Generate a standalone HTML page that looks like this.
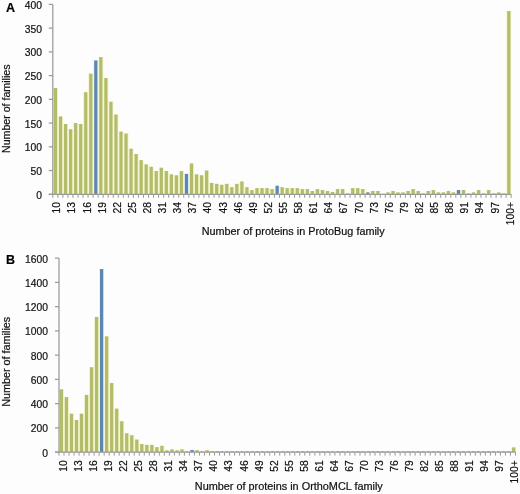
<!DOCTYPE html>
<html><head><meta charset="utf-8"><style>
html,body{margin:0;padding:0;background:#fff;}
body{width:520px;height:494px;overflow:hidden;}
svg{display:block;will-change:transform;filter:blur(0.3px);}
text{font-family:"Liberation Sans",sans-serif;fill:#111;stroke:#111;stroke-width:0.2px;}
.n{font-size:10.3px;}
.t{font-size:10px;}
.p{font-size:12.5px;font-weight:bold;fill:#000;}
</style></head><body>
<svg width="520" height="494" viewBox="0 0 520 494">
<rect width="520" height="494" fill="#fdfdfd"/>
<rect x="53.00" y="87.96" width="5.037" height="106.34" fill="#f3f4cc"/>
<rect x="58.04" y="116.44" width="5.037" height="77.86" fill="#f3f4cc"/>
<rect x="63.07" y="124.04" width="5.037" height="70.26" fill="#f3f4cc"/>
<rect x="68.11" y="129.26" width="5.037" height="65.04" fill="#f3f4cc"/>
<rect x="73.15" y="123.09" width="5.037" height="71.21" fill="#f3f4cc"/>
<rect x="78.19" y="124.04" width="5.037" height="70.26" fill="#f3f4cc"/>
<rect x="83.22" y="92.23" width="5.037" height="102.07" fill="#f3f4cc"/>
<rect x="88.26" y="73.71" width="5.037" height="120.59" fill="#f3f4cc"/>
<rect x="93.30" y="60.42" width="5.037" height="133.88" fill="#e9f1f6"/>
<rect x="98.33" y="57.10" width="5.037" height="137.20" fill="#f3f4cc"/>
<rect x="103.37" y="77.99" width="5.037" height="116.31" fill="#f3f4cc"/>
<rect x="108.41" y="101.72" width="5.037" height="92.58" fill="#f3f4cc"/>
<rect x="113.44" y="114.54" width="5.037" height="79.76" fill="#f3f4cc"/>
<rect x="118.48" y="131.63" width="5.037" height="62.67" fill="#f3f4cc"/>
<rect x="123.52" y="133.53" width="5.037" height="60.77" fill="#f3f4cc"/>
<rect x="128.56" y="148.72" width="5.037" height="45.58" fill="#f3f4cc"/>
<rect x="133.59" y="153.95" width="5.037" height="40.35" fill="#f3f4cc"/>
<rect x="138.63" y="160.12" width="5.037" height="34.18" fill="#f3f4cc"/>
<rect x="143.67" y="164.39" width="5.037" height="29.91" fill="#f3f4cc"/>
<rect x="148.70" y="166.76" width="5.037" height="27.54" fill="#f3f4cc"/>
<rect x="153.74" y="171.04" width="5.037" height="23.26" fill="#f3f4cc"/>
<rect x="158.78" y="167.71" width="5.037" height="26.59" fill="#f3f4cc"/>
<rect x="163.81" y="171.04" width="5.037" height="23.26" fill="#f3f4cc"/>
<rect x="168.85" y="174.36" width="5.037" height="19.94" fill="#f3f4cc"/>
<rect x="173.89" y="175.31" width="5.037" height="18.99" fill="#f3f4cc"/>
<rect x="178.93" y="171.04" width="5.037" height="23.26" fill="#f3f4cc"/>
<rect x="183.96" y="173.89" width="5.037" height="20.41" fill="#e9f1f6"/>
<rect x="189.00" y="163.44" width="5.037" height="30.86" fill="#f3f4cc"/>
<rect x="194.04" y="174.36" width="5.037" height="19.94" fill="#f3f4cc"/>
<rect x="199.07" y="175.31" width="5.037" height="18.99" fill="#f3f4cc"/>
<rect x="204.11" y="170.56" width="5.037" height="23.74" fill="#f3f4cc"/>
<rect x="209.15" y="182.91" width="5.037" height="11.39" fill="#f3f4cc"/>
<rect x="214.18" y="183.86" width="5.037" height="10.44" fill="#f3f4cc"/>
<rect x="219.22" y="184.81" width="5.037" height="9.50" fill="#f3f4cc"/>
<rect x="224.26" y="183.86" width="5.037" height="10.44" fill="#f3f4cc"/>
<rect x="229.29" y="187.18" width="5.037" height="7.12" fill="#f3f4cc"/>
<rect x="234.33" y="183.86" width="5.037" height="10.44" fill="#f3f4cc"/>
<rect x="239.37" y="181.48" width="5.037" height="12.82" fill="#f3f4cc"/>
<rect x="244.41" y="187.18" width="5.037" height="7.12" fill="#f3f4cc"/>
<rect x="249.44" y="190.03" width="5.037" height="4.27" fill="#f3f4cc"/>
<rect x="254.48" y="188.13" width="5.037" height="6.17" fill="#f3f4cc"/>
<rect x="259.52" y="188.13" width="5.037" height="6.17" fill="#f3f4cc"/>
<rect x="264.55" y="188.13" width="5.037" height="6.17" fill="#f3f4cc"/>
<rect x="269.59" y="189.08" width="5.037" height="5.22" fill="#f3f4cc"/>
<rect x="274.63" y="185.75" width="5.037" height="8.55" fill="#e9f1f6"/>
<rect x="279.66" y="187.18" width="5.037" height="7.12" fill="#f3f4cc"/>
<rect x="284.70" y="188.13" width="5.037" height="6.17" fill="#f3f4cc"/>
<rect x="289.74" y="188.13" width="5.037" height="6.17" fill="#f3f4cc"/>
<rect x="294.78" y="188.13" width="5.037" height="6.17" fill="#f3f4cc"/>
<rect x="299.81" y="189.08" width="5.037" height="5.22" fill="#f3f4cc"/>
<rect x="304.85" y="189.08" width="5.037" height="5.22" fill="#f3f4cc"/>
<rect x="309.89" y="190.98" width="5.037" height="3.32" fill="#f3f4cc"/>
<rect x="314.92" y="189.08" width="5.037" height="5.22" fill="#f3f4cc"/>
<rect x="319.96" y="190.03" width="5.037" height="4.27" fill="#f3f4cc"/>
<rect x="325.00" y="190.98" width="5.037" height="3.32" fill="#f3f4cc"/>
<rect x="330.03" y="191.93" width="5.037" height="2.37" fill="#f3f4cc"/>
<rect x="335.07" y="189.08" width="5.037" height="5.22" fill="#f3f4cc"/>
<rect x="340.11" y="189.08" width="5.037" height="5.22" fill="#f3f4cc"/>
<rect x="345.15" y="193.35" width="5.037" height="0.95" fill="#f3f4cc"/>
<rect x="350.18" y="188.13" width="5.037" height="6.17" fill="#f3f4cc"/>
<rect x="355.22" y="188.13" width="5.037" height="6.17" fill="#f3f4cc"/>
<rect x="360.26" y="189.08" width="5.037" height="5.22" fill="#f3f4cc"/>
<rect x="365.29" y="192.40" width="5.037" height="1.90" fill="#e9f1f6"/>
<rect x="370.33" y="190.98" width="5.037" height="3.32" fill="#f3f4cc"/>
<rect x="375.37" y="190.98" width="5.037" height="3.32" fill="#f3f4cc"/>
<rect x="380.40" y="193.83" width="5.037" height="0.47" fill="#f3f4cc"/>
<rect x="385.44" y="192.40" width="5.037" height="1.90" fill="#f3f4cc"/>
<rect x="390.48" y="190.98" width="5.037" height="3.32" fill="#f3f4cc"/>
<rect x="395.52" y="192.40" width="5.037" height="1.90" fill="#f3f4cc"/>
<rect x="400.55" y="192.40" width="5.037" height="1.90" fill="#f3f4cc"/>
<rect x="405.59" y="190.98" width="5.037" height="3.32" fill="#f3f4cc"/>
<rect x="410.63" y="189.08" width="5.037" height="5.22" fill="#f3f4cc"/>
<rect x="415.66" y="190.98" width="5.037" height="3.32" fill="#f3f4cc"/>
<rect x="420.70" y="193.35" width="5.037" height="0.95" fill="#f3f4cc"/>
<rect x="425.74" y="190.98" width="5.037" height="3.32" fill="#f3f4cc"/>
<rect x="430.77" y="190.03" width="5.037" height="4.27" fill="#f3f4cc"/>
<rect x="435.81" y="192.40" width="5.037" height="1.90" fill="#f3f4cc"/>
<rect x="440.85" y="192.40" width="5.037" height="1.90" fill="#f3f4cc"/>
<rect x="445.89" y="190.98" width="5.037" height="3.32" fill="#f3f4cc"/>
<rect x="450.92" y="192.40" width="5.037" height="1.90" fill="#f3f4cc"/>
<rect x="455.96" y="190.03" width="5.037" height="4.27" fill="#e9f1f6"/>
<rect x="461.00" y="190.03" width="5.037" height="4.27" fill="#f3f4cc"/>
<rect x="466.03" y="193.35" width="5.037" height="0.95" fill="#f3f4cc"/>
<rect x="471.07" y="192.40" width="5.037" height="1.90" fill="#f3f4cc"/>
<rect x="476.11" y="190.03" width="5.037" height="4.27" fill="#f3f4cc"/>
<rect x="481.14" y="193.35" width="5.037" height="0.95" fill="#f3f4cc"/>
<rect x="486.18" y="190.03" width="5.037" height="4.27" fill="#f3f4cc"/>
<rect x="491.22" y="193.35" width="5.037" height="0.95" fill="#f3f4cc"/>
<rect x="496.26" y="192.40" width="5.037" height="1.90" fill="#f3f4cc"/>
<rect x="501.29" y="193.35" width="5.037" height="0.95" fill="#f3f4cc"/>
<rect x="506.33" y="11.05" width="5.037" height="183.25" fill="#f3f4cc"/>
<rect x="53.92" y="87.96" width="3.2" height="106.34" fill="#b3bc6a"/>
<rect x="58.96" y="116.44" width="3.2" height="77.86" fill="#b3bc6a"/>
<rect x="63.99" y="124.04" width="3.2" height="70.26" fill="#b3bc6a"/>
<rect x="69.03" y="129.26" width="3.2" height="65.04" fill="#b3bc6a"/>
<rect x="74.07" y="123.09" width="3.2" height="71.21" fill="#b3bc6a"/>
<rect x="79.10" y="124.04" width="3.2" height="70.26" fill="#b3bc6a"/>
<rect x="84.14" y="92.23" width="3.2" height="102.07" fill="#b3bc6a"/>
<rect x="89.18" y="73.71" width="3.2" height="120.59" fill="#b3bc6a"/>
<rect x="94.21" y="60.42" width="3.2" height="133.88" fill="#5b87b3"/>
<rect x="99.25" y="57.10" width="3.2" height="137.20" fill="#b3bc6a"/>
<rect x="104.29" y="77.99" width="3.2" height="116.31" fill="#b3bc6a"/>
<rect x="109.33" y="101.72" width="3.2" height="92.58" fill="#b3bc6a"/>
<rect x="114.36" y="114.54" width="3.2" height="79.76" fill="#b3bc6a"/>
<rect x="119.40" y="131.63" width="3.2" height="62.67" fill="#b3bc6a"/>
<rect x="124.44" y="133.53" width="3.2" height="60.77" fill="#b3bc6a"/>
<rect x="129.47" y="148.72" width="3.2" height="45.58" fill="#b3bc6a"/>
<rect x="134.51" y="153.95" width="3.2" height="40.35" fill="#b3bc6a"/>
<rect x="139.55" y="160.12" width="3.2" height="34.18" fill="#b3bc6a"/>
<rect x="144.58" y="164.39" width="3.2" height="29.91" fill="#b3bc6a"/>
<rect x="149.62" y="166.76" width="3.2" height="27.54" fill="#b3bc6a"/>
<rect x="154.66" y="171.04" width="3.2" height="23.26" fill="#b3bc6a"/>
<rect x="159.70" y="167.71" width="3.2" height="26.59" fill="#b3bc6a"/>
<rect x="164.73" y="171.04" width="3.2" height="23.26" fill="#b3bc6a"/>
<rect x="169.77" y="174.36" width="3.2" height="19.94" fill="#b3bc6a"/>
<rect x="174.81" y="175.31" width="3.2" height="18.99" fill="#b3bc6a"/>
<rect x="179.84" y="171.04" width="3.2" height="23.26" fill="#b3bc6a"/>
<rect x="184.88" y="173.89" width="3.2" height="20.41" fill="#5b87b3"/>
<rect x="189.92" y="163.44" width="3.2" height="30.86" fill="#b3bc6a"/>
<rect x="194.95" y="174.36" width="3.2" height="19.94" fill="#b3bc6a"/>
<rect x="199.99" y="175.31" width="3.2" height="18.99" fill="#b3bc6a"/>
<rect x="205.03" y="170.56" width="3.2" height="23.74" fill="#b3bc6a"/>
<rect x="210.07" y="182.91" width="3.2" height="11.39" fill="#b3bc6a"/>
<rect x="215.10" y="183.86" width="3.2" height="10.44" fill="#b3bc6a"/>
<rect x="220.14" y="184.81" width="3.2" height="9.50" fill="#b3bc6a"/>
<rect x="225.18" y="183.86" width="3.2" height="10.44" fill="#b3bc6a"/>
<rect x="230.21" y="187.18" width="3.2" height="7.12" fill="#b3bc6a"/>
<rect x="235.25" y="183.86" width="3.2" height="10.44" fill="#b3bc6a"/>
<rect x="240.29" y="181.48" width="3.2" height="12.82" fill="#b3bc6a"/>
<rect x="245.32" y="187.18" width="3.2" height="7.12" fill="#b3bc6a"/>
<rect x="250.36" y="190.03" width="3.2" height="4.27" fill="#b3bc6a"/>
<rect x="255.40" y="188.13" width="3.2" height="6.17" fill="#b3bc6a"/>
<rect x="260.44" y="188.13" width="3.2" height="6.17" fill="#b3bc6a"/>
<rect x="265.47" y="188.13" width="3.2" height="6.17" fill="#b3bc6a"/>
<rect x="270.51" y="189.08" width="3.2" height="5.22" fill="#b3bc6a"/>
<rect x="275.55" y="185.75" width="3.2" height="8.55" fill="#5b87b3"/>
<rect x="280.58" y="187.18" width="3.2" height="7.12" fill="#b3bc6a"/>
<rect x="285.62" y="188.13" width="3.2" height="6.17" fill="#b3bc6a"/>
<rect x="290.66" y="188.13" width="3.2" height="6.17" fill="#b3bc6a"/>
<rect x="295.69" y="188.13" width="3.2" height="6.17" fill="#b3bc6a"/>
<rect x="300.73" y="189.08" width="3.2" height="5.22" fill="#b3bc6a"/>
<rect x="305.77" y="189.08" width="3.2" height="5.22" fill="#b3bc6a"/>
<rect x="310.81" y="190.98" width="3.2" height="3.32" fill="#b3bc6a"/>
<rect x="315.84" y="189.08" width="3.2" height="5.22" fill="#b3bc6a"/>
<rect x="320.88" y="190.03" width="3.2" height="4.27" fill="#b3bc6a"/>
<rect x="325.92" y="190.98" width="3.2" height="3.32" fill="#b3bc6a"/>
<rect x="330.95" y="191.93" width="3.2" height="2.37" fill="#b3bc6a"/>
<rect x="335.99" y="189.08" width="3.2" height="5.22" fill="#b3bc6a"/>
<rect x="341.03" y="189.08" width="3.2" height="5.22" fill="#b3bc6a"/>
<rect x="346.06" y="193.35" width="3.2" height="0.95" fill="#b3bc6a"/>
<rect x="351.10" y="188.13" width="3.2" height="6.17" fill="#b3bc6a"/>
<rect x="356.14" y="188.13" width="3.2" height="6.17" fill="#b3bc6a"/>
<rect x="361.18" y="189.08" width="3.2" height="5.22" fill="#b3bc6a"/>
<rect x="366.21" y="192.40" width="3.2" height="1.90" fill="#5b87b3"/>
<rect x="371.25" y="190.98" width="3.2" height="3.32" fill="#b3bc6a"/>
<rect x="376.29" y="190.98" width="3.2" height="3.32" fill="#b3bc6a"/>
<rect x="381.32" y="193.83" width="3.2" height="0.47" fill="#b3bc6a"/>
<rect x="386.36" y="192.40" width="3.2" height="1.90" fill="#b3bc6a"/>
<rect x="391.40" y="190.98" width="3.2" height="3.32" fill="#b3bc6a"/>
<rect x="396.43" y="192.40" width="3.2" height="1.90" fill="#b3bc6a"/>
<rect x="401.47" y="192.40" width="3.2" height="1.90" fill="#b3bc6a"/>
<rect x="406.51" y="190.98" width="3.2" height="3.32" fill="#b3bc6a"/>
<rect x="411.55" y="189.08" width="3.2" height="5.22" fill="#b3bc6a"/>
<rect x="416.58" y="190.98" width="3.2" height="3.32" fill="#b3bc6a"/>
<rect x="421.62" y="193.35" width="3.2" height="0.95" fill="#b3bc6a"/>
<rect x="426.66" y="190.98" width="3.2" height="3.32" fill="#b3bc6a"/>
<rect x="431.69" y="190.03" width="3.2" height="4.27" fill="#b3bc6a"/>
<rect x="436.73" y="192.40" width="3.2" height="1.90" fill="#b3bc6a"/>
<rect x="441.77" y="192.40" width="3.2" height="1.90" fill="#b3bc6a"/>
<rect x="446.80" y="190.98" width="3.2" height="3.32" fill="#b3bc6a"/>
<rect x="451.84" y="192.40" width="3.2" height="1.90" fill="#b3bc6a"/>
<rect x="456.88" y="190.03" width="3.2" height="4.27" fill="#5b87b3"/>
<rect x="461.92" y="190.03" width="3.2" height="4.27" fill="#b3bc6a"/>
<rect x="466.95" y="193.35" width="3.2" height="0.95" fill="#b3bc6a"/>
<rect x="471.99" y="192.40" width="3.2" height="1.90" fill="#b3bc6a"/>
<rect x="477.03" y="190.03" width="3.2" height="4.27" fill="#b3bc6a"/>
<rect x="482.06" y="193.35" width="3.2" height="0.95" fill="#b3bc6a"/>
<rect x="487.10" y="190.03" width="3.2" height="4.27" fill="#b3bc6a"/>
<rect x="492.14" y="193.35" width="3.2" height="0.95" fill="#b3bc6a"/>
<rect x="497.17" y="192.40" width="3.2" height="1.90" fill="#b3bc6a"/>
<rect x="502.21" y="193.35" width="3.2" height="0.95" fill="#b3bc6a"/>
<rect x="507.25" y="11.05" width="3.2" height="183.25" fill="#b3bc6a"/>
<line x1="52.80" y1="4.40" x2="52.80" y2="194.30" stroke="#9a9a9a" stroke-width="1.25"/>
<line x1="48.80" y1="194.30" x2="511.20" y2="194.30" stroke="#9a9a9a" stroke-width="1.25"/>
<line x1="48.80" y1="194.30" x2="52.80" y2="194.30" stroke="#9a9a9a" stroke-width="1.25"/>
<text x="42.0" y="198.80" text-anchor="end" class="n">0</text>
<line x1="48.80" y1="170.56" x2="52.80" y2="170.56" stroke="#9a9a9a" stroke-width="1.25"/>
<text x="42.0" y="175.06" text-anchor="end" class="n">50</text>
<line x1="48.80" y1="146.83" x2="52.80" y2="146.83" stroke="#9a9a9a" stroke-width="1.25"/>
<text x="42.0" y="151.33" text-anchor="end" class="n">100</text>
<line x1="48.80" y1="123.09" x2="52.80" y2="123.09" stroke="#9a9a9a" stroke-width="1.25"/>
<text x="42.0" y="127.59" text-anchor="end" class="n">150</text>
<line x1="48.80" y1="99.35" x2="52.80" y2="99.35" stroke="#9a9a9a" stroke-width="1.25"/>
<text x="42.0" y="103.85" text-anchor="end" class="n">200</text>
<line x1="48.80" y1="75.61" x2="52.80" y2="75.61" stroke="#9a9a9a" stroke-width="1.25"/>
<text x="42.0" y="80.11" text-anchor="end" class="n">250</text>
<line x1="48.80" y1="51.88" x2="52.80" y2="51.88" stroke="#9a9a9a" stroke-width="1.25"/>
<text x="42.0" y="56.38" text-anchor="end" class="n">300</text>
<line x1="48.80" y1="28.14" x2="52.80" y2="28.14" stroke="#9a9a9a" stroke-width="1.25"/>
<text x="42.0" y="32.64" text-anchor="end" class="n">350</text>
<line x1="48.80" y1="4.40" x2="52.80" y2="4.40" stroke="#9a9a9a" stroke-width="1.25"/>
<text x="42.0" y="8.90" text-anchor="end" class="n">400</text>
<line x1="52.80" y1="194.30" x2="52.80" y2="197.80" stroke="#9a9a9a" stroke-width="1"/>
<line x1="57.84" y1="194.30" x2="57.84" y2="197.80" stroke="#9a9a9a" stroke-width="1"/>
<line x1="62.87" y1="194.30" x2="62.87" y2="197.80" stroke="#9a9a9a" stroke-width="1"/>
<line x1="67.91" y1="194.30" x2="67.91" y2="197.80" stroke="#9a9a9a" stroke-width="1"/>
<line x1="72.95" y1="194.30" x2="72.95" y2="197.80" stroke="#9a9a9a" stroke-width="1"/>
<line x1="77.99" y1="194.30" x2="77.99" y2="197.80" stroke="#9a9a9a" stroke-width="1"/>
<line x1="83.02" y1="194.30" x2="83.02" y2="197.80" stroke="#9a9a9a" stroke-width="1"/>
<line x1="88.06" y1="194.30" x2="88.06" y2="197.80" stroke="#9a9a9a" stroke-width="1"/>
<line x1="93.10" y1="194.30" x2="93.10" y2="197.80" stroke="#9a9a9a" stroke-width="1"/>
<line x1="98.14" y1="194.30" x2="98.14" y2="197.80" stroke="#9a9a9a" stroke-width="1"/>
<line x1="103.17" y1="194.30" x2="103.17" y2="197.80" stroke="#9a9a9a" stroke-width="1"/>
<line x1="108.21" y1="194.30" x2="108.21" y2="197.80" stroke="#9a9a9a" stroke-width="1"/>
<line x1="113.25" y1="194.30" x2="113.25" y2="197.80" stroke="#9a9a9a" stroke-width="1"/>
<line x1="118.29" y1="194.30" x2="118.29" y2="197.80" stroke="#9a9a9a" stroke-width="1"/>
<line x1="123.32" y1="194.30" x2="123.32" y2="197.80" stroke="#9a9a9a" stroke-width="1"/>
<line x1="128.36" y1="194.30" x2="128.36" y2="197.80" stroke="#9a9a9a" stroke-width="1"/>
<line x1="133.40" y1="194.30" x2="133.40" y2="197.80" stroke="#9a9a9a" stroke-width="1"/>
<line x1="138.44" y1="194.30" x2="138.44" y2="197.80" stroke="#9a9a9a" stroke-width="1"/>
<line x1="143.47" y1="194.30" x2="143.47" y2="197.80" stroke="#9a9a9a" stroke-width="1"/>
<line x1="148.51" y1="194.30" x2="148.51" y2="197.80" stroke="#9a9a9a" stroke-width="1"/>
<line x1="153.55" y1="194.30" x2="153.55" y2="197.80" stroke="#9a9a9a" stroke-width="1"/>
<line x1="158.58" y1="194.30" x2="158.58" y2="197.80" stroke="#9a9a9a" stroke-width="1"/>
<line x1="163.62" y1="194.30" x2="163.62" y2="197.80" stroke="#9a9a9a" stroke-width="1"/>
<line x1="168.66" y1="194.30" x2="168.66" y2="197.80" stroke="#9a9a9a" stroke-width="1"/>
<line x1="173.70" y1="194.30" x2="173.70" y2="197.80" stroke="#9a9a9a" stroke-width="1"/>
<line x1="178.73" y1="194.30" x2="178.73" y2="197.80" stroke="#9a9a9a" stroke-width="1"/>
<line x1="183.77" y1="194.30" x2="183.77" y2="197.80" stroke="#9a9a9a" stroke-width="1"/>
<line x1="188.81" y1="194.30" x2="188.81" y2="197.80" stroke="#9a9a9a" stroke-width="1"/>
<line x1="193.85" y1="194.30" x2="193.85" y2="197.80" stroke="#9a9a9a" stroke-width="1"/>
<line x1="198.88" y1="194.30" x2="198.88" y2="197.80" stroke="#9a9a9a" stroke-width="1"/>
<line x1="203.92" y1="194.30" x2="203.92" y2="197.80" stroke="#9a9a9a" stroke-width="1"/>
<line x1="208.96" y1="194.30" x2="208.96" y2="197.80" stroke="#9a9a9a" stroke-width="1"/>
<line x1="214.00" y1="194.30" x2="214.00" y2="197.80" stroke="#9a9a9a" stroke-width="1"/>
<line x1="219.03" y1="194.30" x2="219.03" y2="197.80" stroke="#9a9a9a" stroke-width="1"/>
<line x1="224.07" y1="194.30" x2="224.07" y2="197.80" stroke="#9a9a9a" stroke-width="1"/>
<line x1="229.11" y1="194.30" x2="229.11" y2="197.80" stroke="#9a9a9a" stroke-width="1"/>
<line x1="234.15" y1="194.30" x2="234.15" y2="197.80" stroke="#9a9a9a" stroke-width="1"/>
<line x1="239.18" y1="194.30" x2="239.18" y2="197.80" stroke="#9a9a9a" stroke-width="1"/>
<line x1="244.22" y1="194.30" x2="244.22" y2="197.80" stroke="#9a9a9a" stroke-width="1"/>
<line x1="249.26" y1="194.30" x2="249.26" y2="197.80" stroke="#9a9a9a" stroke-width="1"/>
<line x1="254.29" y1="194.30" x2="254.29" y2="197.80" stroke="#9a9a9a" stroke-width="1"/>
<line x1="259.33" y1="194.30" x2="259.33" y2="197.80" stroke="#9a9a9a" stroke-width="1"/>
<line x1="264.37" y1="194.30" x2="264.37" y2="197.80" stroke="#9a9a9a" stroke-width="1"/>
<line x1="269.41" y1="194.30" x2="269.41" y2="197.80" stroke="#9a9a9a" stroke-width="1"/>
<line x1="274.44" y1="194.30" x2="274.44" y2="197.80" stroke="#9a9a9a" stroke-width="1"/>
<line x1="279.48" y1="194.30" x2="279.48" y2="197.80" stroke="#9a9a9a" stroke-width="1"/>
<line x1="284.52" y1="194.30" x2="284.52" y2="197.80" stroke="#9a9a9a" stroke-width="1"/>
<line x1="289.56" y1="194.30" x2="289.56" y2="197.80" stroke="#9a9a9a" stroke-width="1"/>
<line x1="294.59" y1="194.30" x2="294.59" y2="197.80" stroke="#9a9a9a" stroke-width="1"/>
<line x1="299.63" y1="194.30" x2="299.63" y2="197.80" stroke="#9a9a9a" stroke-width="1"/>
<line x1="304.67" y1="194.30" x2="304.67" y2="197.80" stroke="#9a9a9a" stroke-width="1"/>
<line x1="309.71" y1="194.30" x2="309.71" y2="197.80" stroke="#9a9a9a" stroke-width="1"/>
<line x1="314.74" y1="194.30" x2="314.74" y2="197.80" stroke="#9a9a9a" stroke-width="1"/>
<line x1="319.78" y1="194.30" x2="319.78" y2="197.80" stroke="#9a9a9a" stroke-width="1"/>
<line x1="324.82" y1="194.30" x2="324.82" y2="197.80" stroke="#9a9a9a" stroke-width="1"/>
<line x1="329.85" y1="194.30" x2="329.85" y2="197.80" stroke="#9a9a9a" stroke-width="1"/>
<line x1="334.89" y1="194.30" x2="334.89" y2="197.80" stroke="#9a9a9a" stroke-width="1"/>
<line x1="339.93" y1="194.30" x2="339.93" y2="197.80" stroke="#9a9a9a" stroke-width="1"/>
<line x1="344.97" y1="194.30" x2="344.97" y2="197.80" stroke="#9a9a9a" stroke-width="1"/>
<line x1="350.00" y1="194.30" x2="350.00" y2="197.80" stroke="#9a9a9a" stroke-width="1"/>
<line x1="355.04" y1="194.30" x2="355.04" y2="197.80" stroke="#9a9a9a" stroke-width="1"/>
<line x1="360.08" y1="194.30" x2="360.08" y2="197.80" stroke="#9a9a9a" stroke-width="1"/>
<line x1="365.12" y1="194.30" x2="365.12" y2="197.80" stroke="#9a9a9a" stroke-width="1"/>
<line x1="370.15" y1="194.30" x2="370.15" y2="197.80" stroke="#9a9a9a" stroke-width="1"/>
<line x1="375.19" y1="194.30" x2="375.19" y2="197.80" stroke="#9a9a9a" stroke-width="1"/>
<line x1="380.23" y1="194.30" x2="380.23" y2="197.80" stroke="#9a9a9a" stroke-width="1"/>
<line x1="385.27" y1="194.30" x2="385.27" y2="197.80" stroke="#9a9a9a" stroke-width="1"/>
<line x1="390.30" y1="194.30" x2="390.30" y2="197.80" stroke="#9a9a9a" stroke-width="1"/>
<line x1="395.34" y1="194.30" x2="395.34" y2="197.80" stroke="#9a9a9a" stroke-width="1"/>
<line x1="400.38" y1="194.30" x2="400.38" y2="197.80" stroke="#9a9a9a" stroke-width="1"/>
<line x1="405.42" y1="194.30" x2="405.42" y2="197.80" stroke="#9a9a9a" stroke-width="1"/>
<line x1="410.45" y1="194.30" x2="410.45" y2="197.80" stroke="#9a9a9a" stroke-width="1"/>
<line x1="415.49" y1="194.30" x2="415.49" y2="197.80" stroke="#9a9a9a" stroke-width="1"/>
<line x1="420.53" y1="194.30" x2="420.53" y2="197.80" stroke="#9a9a9a" stroke-width="1"/>
<line x1="425.56" y1="194.30" x2="425.56" y2="197.80" stroke="#9a9a9a" stroke-width="1"/>
<line x1="430.60" y1="194.30" x2="430.60" y2="197.80" stroke="#9a9a9a" stroke-width="1"/>
<line x1="435.64" y1="194.30" x2="435.64" y2="197.80" stroke="#9a9a9a" stroke-width="1"/>
<line x1="440.68" y1="194.30" x2="440.68" y2="197.80" stroke="#9a9a9a" stroke-width="1"/>
<line x1="445.71" y1="194.30" x2="445.71" y2="197.80" stroke="#9a9a9a" stroke-width="1"/>
<line x1="450.75" y1="194.30" x2="450.75" y2="197.80" stroke="#9a9a9a" stroke-width="1"/>
<line x1="455.79" y1="194.30" x2="455.79" y2="197.80" stroke="#9a9a9a" stroke-width="1"/>
<line x1="460.83" y1="194.30" x2="460.83" y2="197.80" stroke="#9a9a9a" stroke-width="1"/>
<line x1="465.86" y1="194.30" x2="465.86" y2="197.80" stroke="#9a9a9a" stroke-width="1"/>
<line x1="470.90" y1="194.30" x2="470.90" y2="197.80" stroke="#9a9a9a" stroke-width="1"/>
<line x1="475.94" y1="194.30" x2="475.94" y2="197.80" stroke="#9a9a9a" stroke-width="1"/>
<line x1="480.98" y1="194.30" x2="480.98" y2="197.80" stroke="#9a9a9a" stroke-width="1"/>
<line x1="486.01" y1="194.30" x2="486.01" y2="197.80" stroke="#9a9a9a" stroke-width="1"/>
<line x1="491.05" y1="194.30" x2="491.05" y2="197.80" stroke="#9a9a9a" stroke-width="1"/>
<line x1="496.09" y1="194.30" x2="496.09" y2="197.80" stroke="#9a9a9a" stroke-width="1"/>
<line x1="501.13" y1="194.30" x2="501.13" y2="197.80" stroke="#9a9a9a" stroke-width="1"/>
<line x1="506.16" y1="194.30" x2="506.16" y2="197.80" stroke="#9a9a9a" stroke-width="1"/>
<line x1="511.20" y1="194.30" x2="511.20" y2="197.80" stroke="#9a9a9a" stroke-width="1"/>
<text transform="translate(60.32,202.00) rotate(-90)" text-anchor="end" class="n">10</text>
<text transform="translate(75.43,202.00) rotate(-90)" text-anchor="end" class="n">13</text>
<text transform="translate(90.54,202.00) rotate(-90)" text-anchor="end" class="n">16</text>
<text transform="translate(105.65,202.00) rotate(-90)" text-anchor="end" class="n">19</text>
<text transform="translate(120.77,202.00) rotate(-90)" text-anchor="end" class="n">22</text>
<text transform="translate(135.88,202.00) rotate(-90)" text-anchor="end" class="n">25</text>
<text transform="translate(150.99,202.00) rotate(-90)" text-anchor="end" class="n">28</text>
<text transform="translate(166.10,202.00) rotate(-90)" text-anchor="end" class="n">31</text>
<text transform="translate(181.22,202.00) rotate(-90)" text-anchor="end" class="n">34</text>
<text transform="translate(196.33,202.00) rotate(-90)" text-anchor="end" class="n">37</text>
<text transform="translate(211.44,202.00) rotate(-90)" text-anchor="end" class="n">40</text>
<text transform="translate(226.55,202.00) rotate(-90)" text-anchor="end" class="n">43</text>
<text transform="translate(241.66,202.00) rotate(-90)" text-anchor="end" class="n">46</text>
<text transform="translate(256.78,202.00) rotate(-90)" text-anchor="end" class="n">49</text>
<text transform="translate(271.89,202.00) rotate(-90)" text-anchor="end" class="n">52</text>
<text transform="translate(287.00,202.00) rotate(-90)" text-anchor="end" class="n">55</text>
<text transform="translate(302.11,202.00) rotate(-90)" text-anchor="end" class="n">58</text>
<text transform="translate(317.22,202.00) rotate(-90)" text-anchor="end" class="n">61</text>
<text transform="translate(332.34,202.00) rotate(-90)" text-anchor="end" class="n">64</text>
<text transform="translate(347.45,202.00) rotate(-90)" text-anchor="end" class="n">67</text>
<text transform="translate(362.56,202.00) rotate(-90)" text-anchor="end" class="n">70</text>
<text transform="translate(377.67,202.00) rotate(-90)" text-anchor="end" class="n">73</text>
<text transform="translate(392.78,202.00) rotate(-90)" text-anchor="end" class="n">76</text>
<text transform="translate(407.90,202.00) rotate(-90)" text-anchor="end" class="n">79</text>
<text transform="translate(423.01,202.00) rotate(-90)" text-anchor="end" class="n">82</text>
<text transform="translate(438.12,202.00) rotate(-90)" text-anchor="end" class="n">85</text>
<text transform="translate(453.23,202.00) rotate(-90)" text-anchor="end" class="n">88</text>
<text transform="translate(468.35,202.00) rotate(-90)" text-anchor="end" class="n">91</text>
<text transform="translate(483.46,202.00) rotate(-90)" text-anchor="end" class="n">94</text>
<text transform="translate(498.57,202.00) rotate(-90)" text-anchor="end" class="n">97</text>
<text transform="translate(513.68,202.00) rotate(-90)" text-anchor="end" class="n">100+</text>
<rect x="58.90" y="389.34" width="5.025" height="62.81" fill="#f3f4cc"/>
<rect x="63.92" y="397.10" width="5.025" height="55.05" fill="#f3f4cc"/>
<rect x="68.95" y="413.71" width="5.025" height="38.44" fill="#f3f4cc"/>
<rect x="73.97" y="420.02" width="5.025" height="32.13" fill="#f3f4cc"/>
<rect x="79.00" y="413.71" width="5.025" height="38.44" fill="#f3f4cc"/>
<rect x="84.03" y="394.92" width="5.025" height="57.23" fill="#f3f4cc"/>
<rect x="89.05" y="367.27" width="5.025" height="84.88" fill="#f3f4cc"/>
<rect x="94.08" y="316.96" width="5.025" height="135.19" fill="#f3f4cc"/>
<rect x="99.10" y="269.06" width="5.025" height="183.09" fill="#e9f1f6"/>
<rect x="104.12" y="336.36" width="5.025" height="115.79" fill="#f3f4cc"/>
<rect x="109.15" y="383.04" width="5.025" height="69.11" fill="#f3f4cc"/>
<rect x="114.18" y="408.62" width="5.025" height="43.53" fill="#f3f4cc"/>
<rect x="119.20" y="421.23" width="5.025" height="30.92" fill="#f3f4cc"/>
<rect x="124.22" y="433.23" width="5.025" height="18.91" fill="#f3f4cc"/>
<rect x="129.25" y="435.17" width="5.025" height="16.97" fill="#f3f4cc"/>
<rect x="134.28" y="439.54" width="5.025" height="12.61" fill="#f3f4cc"/>
<rect x="139.30" y="444.03" width="5.025" height="8.12" fill="#f3f4cc"/>
<rect x="144.33" y="444.88" width="5.025" height="7.27" fill="#f3f4cc"/>
<rect x="149.35" y="444.88" width="5.025" height="7.27" fill="#f3f4cc"/>
<rect x="154.38" y="447.18" width="5.025" height="4.97" fill="#f3f4cc"/>
<rect x="159.40" y="445.84" width="5.025" height="6.30" fill="#f3f4cc"/>
<rect x="164.43" y="450.33" width="5.025" height="1.82" fill="#f3f4cc"/>
<rect x="169.45" y="449.36" width="5.025" height="2.79" fill="#f3f4cc"/>
<rect x="174.47" y="450.33" width="5.025" height="1.82" fill="#f3f4cc"/>
<rect x="179.50" y="449.36" width="5.025" height="2.79" fill="#f3f4cc"/>
<rect x="184.53" y="451.18" width="5.025" height="0.97" fill="#f3f4cc"/>
<rect x="189.55" y="449.97" width="5.025" height="2.18" fill="#e9f1f6"/>
<rect x="194.58" y="450.21" width="5.025" height="1.94" fill="#f3f4cc"/>
<rect x="199.60" y="451.18" width="5.025" height="0.97" fill="#f3f4cc"/>
<rect x="204.63" y="450.21" width="5.025" height="1.94" fill="#f3f4cc"/>
<rect x="209.65" y="451.06" width="5.025" height="1.09" fill="#f3f4cc"/>
<rect x="214.68" y="451.06" width="5.025" height="1.09" fill="#f3f4cc"/>
<rect x="219.70" y="451.06" width="5.025" height="1.09" fill="#f3f4cc"/>
<rect x="224.73" y="451.06" width="5.025" height="1.09" fill="#f3f4cc"/>
<rect x="229.75" y="451.06" width="5.025" height="1.09" fill="#f3f4cc"/>
<rect x="234.78" y="451.06" width="5.025" height="1.09" fill="#f3f4cc"/>
<rect x="239.80" y="451.06" width="5.025" height="1.09" fill="#f3f4cc"/>
<rect x="244.83" y="451.06" width="5.025" height="1.09" fill="#f3f4cc"/>
<rect x="249.85" y="451.06" width="5.025" height="1.09" fill="#f3f4cc"/>
<rect x="254.88" y="451.06" width="5.025" height="1.09" fill="#f3f4cc"/>
<rect x="259.90" y="451.06" width="5.025" height="1.09" fill="#f3f4cc"/>
<rect x="264.93" y="451.06" width="5.025" height="1.09" fill="#f3f4cc"/>
<rect x="269.95" y="451.06" width="5.025" height="1.09" fill="#f3f4cc"/>
<rect x="274.98" y="451.06" width="5.025" height="1.09" fill="#f3f4cc"/>
<rect x="280.00" y="451.06" width="5.025" height="1.09" fill="#f3f4cc"/>
<rect x="285.03" y="451.06" width="5.025" height="1.09" fill="#f3f4cc"/>
<rect x="290.05" y="451.06" width="5.025" height="1.09" fill="#f3f4cc"/>
<rect x="295.07" y="451.06" width="5.025" height="1.09" fill="#f3f4cc"/>
<rect x="300.10" y="451.06" width="5.025" height="1.09" fill="#f3f4cc"/>
<rect x="305.12" y="451.06" width="5.025" height="1.09" fill="#f3f4cc"/>
<rect x="310.15" y="451.06" width="5.025" height="1.09" fill="#f3f4cc"/>
<rect x="315.18" y="451.06" width="5.025" height="1.09" fill="#f3f4cc"/>
<rect x="320.20" y="451.06" width="5.025" height="1.09" fill="#f3f4cc"/>
<rect x="325.23" y="451.06" width="5.025" height="1.09" fill="#f3f4cc"/>
<rect x="330.25" y="451.06" width="5.025" height="1.09" fill="#f3f4cc"/>
<rect x="335.27" y="451.06" width="5.025" height="1.09" fill="#f3f4cc"/>
<rect x="340.30" y="451.06" width="5.025" height="1.09" fill="#f3f4cc"/>
<rect x="345.32" y="451.06" width="5.025" height="1.09" fill="#f3f4cc"/>
<rect x="350.35" y="451.06" width="5.025" height="1.09" fill="#f3f4cc"/>
<rect x="355.38" y="451.06" width="5.025" height="1.09" fill="#f3f4cc"/>
<rect x="360.40" y="451.06" width="5.025" height="1.09" fill="#f3f4cc"/>
<rect x="365.43" y="451.06" width="5.025" height="1.09" fill="#f3f4cc"/>
<rect x="370.45" y="451.06" width="5.025" height="1.09" fill="#f3f4cc"/>
<rect x="375.48" y="451.06" width="5.025" height="1.09" fill="#f3f4cc"/>
<rect x="380.50" y="451.06" width="5.025" height="1.09" fill="#f3f4cc"/>
<rect x="385.52" y="451.06" width="5.025" height="1.09" fill="#f3f4cc"/>
<rect x="390.55" y="451.06" width="5.025" height="1.09" fill="#f3f4cc"/>
<rect x="395.57" y="451.06" width="5.025" height="1.09" fill="#f3f4cc"/>
<rect x="400.60" y="451.06" width="5.025" height="1.09" fill="#f3f4cc"/>
<rect x="405.62" y="451.06" width="5.025" height="1.09" fill="#f3f4cc"/>
<rect x="410.65" y="451.06" width="5.025" height="1.09" fill="#f3f4cc"/>
<rect x="415.68" y="451.06" width="5.025" height="1.09" fill="#f3f4cc"/>
<rect x="420.70" y="451.06" width="5.025" height="1.09" fill="#f3f4cc"/>
<rect x="425.73" y="451.06" width="5.025" height="1.09" fill="#f3f4cc"/>
<rect x="430.75" y="451.06" width="5.025" height="1.09" fill="#f3f4cc"/>
<rect x="435.77" y="451.06" width="5.025" height="1.09" fill="#f3f4cc"/>
<rect x="440.80" y="451.06" width="5.025" height="1.09" fill="#f3f4cc"/>
<rect x="445.82" y="451.06" width="5.025" height="1.09" fill="#f3f4cc"/>
<rect x="450.85" y="451.06" width="5.025" height="1.09" fill="#f3f4cc"/>
<rect x="455.88" y="451.06" width="5.025" height="1.09" fill="#f3f4cc"/>
<rect x="460.90" y="451.06" width="5.025" height="1.09" fill="#f3f4cc"/>
<rect x="465.93" y="451.06" width="5.025" height="1.09" fill="#f3f4cc"/>
<rect x="470.95" y="451.06" width="5.025" height="1.09" fill="#f3f4cc"/>
<rect x="475.98" y="451.06" width="5.025" height="1.09" fill="#f3f4cc"/>
<rect x="481.00" y="451.06" width="5.025" height="1.09" fill="#f3f4cc"/>
<rect x="486.03" y="451.06" width="5.025" height="1.09" fill="#f3f4cc"/>
<rect x="491.05" y="451.06" width="5.025" height="1.09" fill="#f3f4cc"/>
<rect x="496.07" y="451.06" width="5.025" height="1.09" fill="#f3f4cc"/>
<rect x="501.10" y="451.06" width="5.025" height="1.09" fill="#f3f4cc"/>
<rect x="506.12" y="451.06" width="5.025" height="1.09" fill="#f3f4cc"/>
<rect x="511.15" y="447.42" width="5.025" height="4.73" fill="#f3f4cc"/>
<rect x="59.81" y="389.34" width="3.2" height="62.81" fill="#b3bc6a"/>
<rect x="64.84" y="397.10" width="3.2" height="55.05" fill="#b3bc6a"/>
<rect x="69.86" y="413.71" width="3.2" height="38.44" fill="#b3bc6a"/>
<rect x="74.89" y="420.02" width="3.2" height="32.13" fill="#b3bc6a"/>
<rect x="79.91" y="413.71" width="3.2" height="38.44" fill="#b3bc6a"/>
<rect x="84.94" y="394.92" width="3.2" height="57.23" fill="#b3bc6a"/>
<rect x="89.96" y="367.27" width="3.2" height="84.88" fill="#b3bc6a"/>
<rect x="94.99" y="316.96" width="3.2" height="135.19" fill="#b3bc6a"/>
<rect x="100.01" y="269.06" width="3.2" height="183.09" fill="#5b87b3"/>
<rect x="105.04" y="336.36" width="3.2" height="115.79" fill="#b3bc6a"/>
<rect x="110.06" y="383.04" width="3.2" height="69.11" fill="#b3bc6a"/>
<rect x="115.09" y="408.62" width="3.2" height="43.53" fill="#b3bc6a"/>
<rect x="120.11" y="421.23" width="3.2" height="30.92" fill="#b3bc6a"/>
<rect x="125.14" y="433.23" width="3.2" height="18.91" fill="#b3bc6a"/>
<rect x="130.16" y="435.17" width="3.2" height="16.97" fill="#b3bc6a"/>
<rect x="135.19" y="439.54" width="3.2" height="12.61" fill="#b3bc6a"/>
<rect x="140.21" y="444.03" width="3.2" height="8.12" fill="#b3bc6a"/>
<rect x="145.24" y="444.88" width="3.2" height="7.27" fill="#b3bc6a"/>
<rect x="150.26" y="444.88" width="3.2" height="7.27" fill="#b3bc6a"/>
<rect x="155.29" y="447.18" width="3.2" height="4.97" fill="#b3bc6a"/>
<rect x="160.31" y="445.84" width="3.2" height="6.30" fill="#b3bc6a"/>
<rect x="165.34" y="450.33" width="3.2" height="1.82" fill="#b3bc6a"/>
<rect x="170.36" y="449.36" width="3.2" height="2.79" fill="#b3bc6a"/>
<rect x="175.39" y="450.33" width="3.2" height="1.82" fill="#b3bc6a"/>
<rect x="180.41" y="449.36" width="3.2" height="2.79" fill="#b3bc6a"/>
<rect x="185.44" y="451.18" width="3.2" height="0.97" fill="#b3bc6a"/>
<rect x="190.46" y="449.97" width="3.2" height="2.18" fill="#5b87b3"/>
<rect x="195.49" y="450.21" width="3.2" height="1.94" fill="#b3bc6a"/>
<rect x="200.51" y="451.18" width="3.2" height="0.97" fill="#b3bc6a"/>
<rect x="205.54" y="450.21" width="3.2" height="1.94" fill="#b3bc6a"/>
<rect x="210.56" y="451.06" width="3.2" height="1.09" fill="#b3bc6a"/>
<rect x="215.59" y="451.06" width="3.2" height="1.09" fill="#b3bc6a"/>
<rect x="220.61" y="451.06" width="3.2" height="1.09" fill="#b3bc6a"/>
<rect x="225.64" y="451.06" width="3.2" height="1.09" fill="#b3bc6a"/>
<rect x="230.66" y="451.06" width="3.2" height="1.09" fill="#b3bc6a"/>
<rect x="235.69" y="451.06" width="3.2" height="1.09" fill="#b3bc6a"/>
<rect x="240.71" y="451.06" width="3.2" height="1.09" fill="#b3bc6a"/>
<rect x="245.74" y="451.06" width="3.2" height="1.09" fill="#b3bc6a"/>
<rect x="250.76" y="451.06" width="3.2" height="1.09" fill="#b3bc6a"/>
<rect x="255.79" y="451.06" width="3.2" height="1.09" fill="#b3bc6a"/>
<rect x="260.81" y="451.06" width="3.2" height="1.09" fill="#b3bc6a"/>
<rect x="265.84" y="451.06" width="3.2" height="1.09" fill="#b3bc6a"/>
<rect x="270.86" y="451.06" width="3.2" height="1.09" fill="#b3bc6a"/>
<rect x="275.89" y="451.06" width="3.2" height="1.09" fill="#b3bc6a"/>
<rect x="280.91" y="451.06" width="3.2" height="1.09" fill="#b3bc6a"/>
<rect x="285.94" y="451.06" width="3.2" height="1.09" fill="#b3bc6a"/>
<rect x="290.96" y="451.06" width="3.2" height="1.09" fill="#b3bc6a"/>
<rect x="295.99" y="451.06" width="3.2" height="1.09" fill="#b3bc6a"/>
<rect x="301.01" y="451.06" width="3.2" height="1.09" fill="#b3bc6a"/>
<rect x="306.04" y="451.06" width="3.2" height="1.09" fill="#b3bc6a"/>
<rect x="311.06" y="451.06" width="3.2" height="1.09" fill="#b3bc6a"/>
<rect x="316.09" y="451.06" width="3.2" height="1.09" fill="#b3bc6a"/>
<rect x="321.11" y="451.06" width="3.2" height="1.09" fill="#b3bc6a"/>
<rect x="326.14" y="451.06" width="3.2" height="1.09" fill="#b3bc6a"/>
<rect x="331.16" y="451.06" width="3.2" height="1.09" fill="#b3bc6a"/>
<rect x="336.19" y="451.06" width="3.2" height="1.09" fill="#b3bc6a"/>
<rect x="341.21" y="451.06" width="3.2" height="1.09" fill="#b3bc6a"/>
<rect x="346.24" y="451.06" width="3.2" height="1.09" fill="#b3bc6a"/>
<rect x="351.26" y="451.06" width="3.2" height="1.09" fill="#b3bc6a"/>
<rect x="356.29" y="451.06" width="3.2" height="1.09" fill="#b3bc6a"/>
<rect x="361.31" y="451.06" width="3.2" height="1.09" fill="#b3bc6a"/>
<rect x="366.34" y="451.06" width="3.2" height="1.09" fill="#b3bc6a"/>
<rect x="371.36" y="451.06" width="3.2" height="1.09" fill="#b3bc6a"/>
<rect x="376.39" y="451.06" width="3.2" height="1.09" fill="#b3bc6a"/>
<rect x="381.41" y="451.06" width="3.2" height="1.09" fill="#b3bc6a"/>
<rect x="386.44" y="451.06" width="3.2" height="1.09" fill="#b3bc6a"/>
<rect x="391.46" y="451.06" width="3.2" height="1.09" fill="#b3bc6a"/>
<rect x="396.49" y="451.06" width="3.2" height="1.09" fill="#b3bc6a"/>
<rect x="401.51" y="451.06" width="3.2" height="1.09" fill="#b3bc6a"/>
<rect x="406.54" y="451.06" width="3.2" height="1.09" fill="#b3bc6a"/>
<rect x="411.56" y="451.06" width="3.2" height="1.09" fill="#b3bc6a"/>
<rect x="416.59" y="451.06" width="3.2" height="1.09" fill="#b3bc6a"/>
<rect x="421.61" y="451.06" width="3.2" height="1.09" fill="#b3bc6a"/>
<rect x="426.64" y="451.06" width="3.2" height="1.09" fill="#b3bc6a"/>
<rect x="431.66" y="451.06" width="3.2" height="1.09" fill="#b3bc6a"/>
<rect x="436.69" y="451.06" width="3.2" height="1.09" fill="#b3bc6a"/>
<rect x="441.71" y="451.06" width="3.2" height="1.09" fill="#b3bc6a"/>
<rect x="446.74" y="451.06" width="3.2" height="1.09" fill="#b3bc6a"/>
<rect x="451.76" y="451.06" width="3.2" height="1.09" fill="#b3bc6a"/>
<rect x="456.79" y="451.06" width="3.2" height="1.09" fill="#b3bc6a"/>
<rect x="461.81" y="451.06" width="3.2" height="1.09" fill="#b3bc6a"/>
<rect x="466.84" y="451.06" width="3.2" height="1.09" fill="#b3bc6a"/>
<rect x="471.86" y="451.06" width="3.2" height="1.09" fill="#b3bc6a"/>
<rect x="476.89" y="451.06" width="3.2" height="1.09" fill="#b3bc6a"/>
<rect x="481.91" y="451.06" width="3.2" height="1.09" fill="#b3bc6a"/>
<rect x="486.94" y="451.06" width="3.2" height="1.09" fill="#b3bc6a"/>
<rect x="491.96" y="451.06" width="3.2" height="1.09" fill="#b3bc6a"/>
<rect x="496.99" y="451.06" width="3.2" height="1.09" fill="#b3bc6a"/>
<rect x="502.01" y="451.06" width="3.2" height="1.09" fill="#b3bc6a"/>
<rect x="507.04" y="451.06" width="3.2" height="1.09" fill="#b3bc6a"/>
<rect x="512.06" y="447.42" width="3.2" height="4.73" fill="#b3bc6a"/>
<line x1="59.00" y1="258.15" x2="59.00" y2="452.15" stroke="#9a9a9a" stroke-width="1.25"/>
<line x1="55.00" y1="452.15" x2="515.50" y2="452.15" stroke="#9a9a9a" stroke-width="1.25"/>
<line x1="55.00" y1="452.15" x2="59.00" y2="452.15" stroke="#9a9a9a" stroke-width="1.25"/>
<text x="48.0" y="456.65" text-anchor="end" class="n">0</text>
<line x1="55.00" y1="427.90" x2="59.00" y2="427.90" stroke="#9a9a9a" stroke-width="1.25"/>
<text x="48.0" y="432.40" text-anchor="end" class="n">200</text>
<line x1="55.00" y1="403.65" x2="59.00" y2="403.65" stroke="#9a9a9a" stroke-width="1.25"/>
<text x="48.0" y="408.15" text-anchor="end" class="n">400</text>
<line x1="55.00" y1="379.40" x2="59.00" y2="379.40" stroke="#9a9a9a" stroke-width="1.25"/>
<text x="48.0" y="383.90" text-anchor="end" class="n">600</text>
<line x1="55.00" y1="355.15" x2="59.00" y2="355.15" stroke="#9a9a9a" stroke-width="1.25"/>
<text x="48.0" y="359.65" text-anchor="end" class="n">800</text>
<line x1="55.00" y1="330.90" x2="59.00" y2="330.90" stroke="#9a9a9a" stroke-width="1.25"/>
<text x="48.0" y="335.40" text-anchor="end" class="n">1000</text>
<line x1="55.00" y1="306.65" x2="59.00" y2="306.65" stroke="#9a9a9a" stroke-width="1.25"/>
<text x="48.0" y="311.15" text-anchor="end" class="n">1200</text>
<line x1="55.00" y1="282.40" x2="59.00" y2="282.40" stroke="#9a9a9a" stroke-width="1.25"/>
<text x="48.0" y="286.90" text-anchor="end" class="n">1400</text>
<line x1="55.00" y1="258.15" x2="59.00" y2="258.15" stroke="#9a9a9a" stroke-width="1.25"/>
<text x="48.0" y="262.65" text-anchor="end" class="n">1600</text>
<line x1="59.00" y1="452.15" x2="59.00" y2="455.65" stroke="#9a9a9a" stroke-width="1"/>
<line x1="64.02" y1="452.15" x2="64.02" y2="455.65" stroke="#9a9a9a" stroke-width="1"/>
<line x1="69.03" y1="452.15" x2="69.03" y2="455.65" stroke="#9a9a9a" stroke-width="1"/>
<line x1="74.05" y1="452.15" x2="74.05" y2="455.65" stroke="#9a9a9a" stroke-width="1"/>
<line x1="79.07" y1="452.15" x2="79.07" y2="455.65" stroke="#9a9a9a" stroke-width="1"/>
<line x1="84.08" y1="452.15" x2="84.08" y2="455.65" stroke="#9a9a9a" stroke-width="1"/>
<line x1="89.10" y1="452.15" x2="89.10" y2="455.65" stroke="#9a9a9a" stroke-width="1"/>
<line x1="94.12" y1="452.15" x2="94.12" y2="455.65" stroke="#9a9a9a" stroke-width="1"/>
<line x1="99.13" y1="452.15" x2="99.13" y2="455.65" stroke="#9a9a9a" stroke-width="1"/>
<line x1="104.15" y1="452.15" x2="104.15" y2="455.65" stroke="#9a9a9a" stroke-width="1"/>
<line x1="109.16" y1="452.15" x2="109.16" y2="455.65" stroke="#9a9a9a" stroke-width="1"/>
<line x1="114.18" y1="452.15" x2="114.18" y2="455.65" stroke="#9a9a9a" stroke-width="1"/>
<line x1="119.20" y1="452.15" x2="119.20" y2="455.65" stroke="#9a9a9a" stroke-width="1"/>
<line x1="124.21" y1="452.15" x2="124.21" y2="455.65" stroke="#9a9a9a" stroke-width="1"/>
<line x1="129.23" y1="452.15" x2="129.23" y2="455.65" stroke="#9a9a9a" stroke-width="1"/>
<line x1="134.25" y1="452.15" x2="134.25" y2="455.65" stroke="#9a9a9a" stroke-width="1"/>
<line x1="139.26" y1="452.15" x2="139.26" y2="455.65" stroke="#9a9a9a" stroke-width="1"/>
<line x1="144.28" y1="452.15" x2="144.28" y2="455.65" stroke="#9a9a9a" stroke-width="1"/>
<line x1="149.30" y1="452.15" x2="149.30" y2="455.65" stroke="#9a9a9a" stroke-width="1"/>
<line x1="154.31" y1="452.15" x2="154.31" y2="455.65" stroke="#9a9a9a" stroke-width="1"/>
<line x1="159.33" y1="452.15" x2="159.33" y2="455.65" stroke="#9a9a9a" stroke-width="1"/>
<line x1="164.35" y1="452.15" x2="164.35" y2="455.65" stroke="#9a9a9a" stroke-width="1"/>
<line x1="169.36" y1="452.15" x2="169.36" y2="455.65" stroke="#9a9a9a" stroke-width="1"/>
<line x1="174.38" y1="452.15" x2="174.38" y2="455.65" stroke="#9a9a9a" stroke-width="1"/>
<line x1="179.40" y1="452.15" x2="179.40" y2="455.65" stroke="#9a9a9a" stroke-width="1"/>
<line x1="184.41" y1="452.15" x2="184.41" y2="455.65" stroke="#9a9a9a" stroke-width="1"/>
<line x1="189.43" y1="452.15" x2="189.43" y2="455.65" stroke="#9a9a9a" stroke-width="1"/>
<line x1="194.45" y1="452.15" x2="194.45" y2="455.65" stroke="#9a9a9a" stroke-width="1"/>
<line x1="199.46" y1="452.15" x2="199.46" y2="455.65" stroke="#9a9a9a" stroke-width="1"/>
<line x1="204.48" y1="452.15" x2="204.48" y2="455.65" stroke="#9a9a9a" stroke-width="1"/>
<line x1="209.49" y1="452.15" x2="209.49" y2="455.65" stroke="#9a9a9a" stroke-width="1"/>
<line x1="214.51" y1="452.15" x2="214.51" y2="455.65" stroke="#9a9a9a" stroke-width="1"/>
<line x1="219.53" y1="452.15" x2="219.53" y2="455.65" stroke="#9a9a9a" stroke-width="1"/>
<line x1="224.54" y1="452.15" x2="224.54" y2="455.65" stroke="#9a9a9a" stroke-width="1"/>
<line x1="229.56" y1="452.15" x2="229.56" y2="455.65" stroke="#9a9a9a" stroke-width="1"/>
<line x1="234.58" y1="452.15" x2="234.58" y2="455.65" stroke="#9a9a9a" stroke-width="1"/>
<line x1="239.59" y1="452.15" x2="239.59" y2="455.65" stroke="#9a9a9a" stroke-width="1"/>
<line x1="244.61" y1="452.15" x2="244.61" y2="455.65" stroke="#9a9a9a" stroke-width="1"/>
<line x1="249.63" y1="452.15" x2="249.63" y2="455.65" stroke="#9a9a9a" stroke-width="1"/>
<line x1="254.64" y1="452.15" x2="254.64" y2="455.65" stroke="#9a9a9a" stroke-width="1"/>
<line x1="259.66" y1="452.15" x2="259.66" y2="455.65" stroke="#9a9a9a" stroke-width="1"/>
<line x1="264.68" y1="452.15" x2="264.68" y2="455.65" stroke="#9a9a9a" stroke-width="1"/>
<line x1="269.69" y1="452.15" x2="269.69" y2="455.65" stroke="#9a9a9a" stroke-width="1"/>
<line x1="274.71" y1="452.15" x2="274.71" y2="455.65" stroke="#9a9a9a" stroke-width="1"/>
<line x1="279.73" y1="452.15" x2="279.73" y2="455.65" stroke="#9a9a9a" stroke-width="1"/>
<line x1="284.74" y1="452.15" x2="284.74" y2="455.65" stroke="#9a9a9a" stroke-width="1"/>
<line x1="289.76" y1="452.15" x2="289.76" y2="455.65" stroke="#9a9a9a" stroke-width="1"/>
<line x1="294.77" y1="452.15" x2="294.77" y2="455.65" stroke="#9a9a9a" stroke-width="1"/>
<line x1="299.79" y1="452.15" x2="299.79" y2="455.65" stroke="#9a9a9a" stroke-width="1"/>
<line x1="304.81" y1="452.15" x2="304.81" y2="455.65" stroke="#9a9a9a" stroke-width="1"/>
<line x1="309.82" y1="452.15" x2="309.82" y2="455.65" stroke="#9a9a9a" stroke-width="1"/>
<line x1="314.84" y1="452.15" x2="314.84" y2="455.65" stroke="#9a9a9a" stroke-width="1"/>
<line x1="319.86" y1="452.15" x2="319.86" y2="455.65" stroke="#9a9a9a" stroke-width="1"/>
<line x1="324.87" y1="452.15" x2="324.87" y2="455.65" stroke="#9a9a9a" stroke-width="1"/>
<line x1="329.89" y1="452.15" x2="329.89" y2="455.65" stroke="#9a9a9a" stroke-width="1"/>
<line x1="334.91" y1="452.15" x2="334.91" y2="455.65" stroke="#9a9a9a" stroke-width="1"/>
<line x1="339.92" y1="452.15" x2="339.92" y2="455.65" stroke="#9a9a9a" stroke-width="1"/>
<line x1="344.94" y1="452.15" x2="344.94" y2="455.65" stroke="#9a9a9a" stroke-width="1"/>
<line x1="349.96" y1="452.15" x2="349.96" y2="455.65" stroke="#9a9a9a" stroke-width="1"/>
<line x1="354.97" y1="452.15" x2="354.97" y2="455.65" stroke="#9a9a9a" stroke-width="1"/>
<line x1="359.99" y1="452.15" x2="359.99" y2="455.65" stroke="#9a9a9a" stroke-width="1"/>
<line x1="365.01" y1="452.15" x2="365.01" y2="455.65" stroke="#9a9a9a" stroke-width="1"/>
<line x1="370.02" y1="452.15" x2="370.02" y2="455.65" stroke="#9a9a9a" stroke-width="1"/>
<line x1="375.04" y1="452.15" x2="375.04" y2="455.65" stroke="#9a9a9a" stroke-width="1"/>
<line x1="380.05" y1="452.15" x2="380.05" y2="455.65" stroke="#9a9a9a" stroke-width="1"/>
<line x1="385.07" y1="452.15" x2="385.07" y2="455.65" stroke="#9a9a9a" stroke-width="1"/>
<line x1="390.09" y1="452.15" x2="390.09" y2="455.65" stroke="#9a9a9a" stroke-width="1"/>
<line x1="395.10" y1="452.15" x2="395.10" y2="455.65" stroke="#9a9a9a" stroke-width="1"/>
<line x1="400.12" y1="452.15" x2="400.12" y2="455.65" stroke="#9a9a9a" stroke-width="1"/>
<line x1="405.14" y1="452.15" x2="405.14" y2="455.65" stroke="#9a9a9a" stroke-width="1"/>
<line x1="410.15" y1="452.15" x2="410.15" y2="455.65" stroke="#9a9a9a" stroke-width="1"/>
<line x1="415.17" y1="452.15" x2="415.17" y2="455.65" stroke="#9a9a9a" stroke-width="1"/>
<line x1="420.19" y1="452.15" x2="420.19" y2="455.65" stroke="#9a9a9a" stroke-width="1"/>
<line x1="425.20" y1="452.15" x2="425.20" y2="455.65" stroke="#9a9a9a" stroke-width="1"/>
<line x1="430.22" y1="452.15" x2="430.22" y2="455.65" stroke="#9a9a9a" stroke-width="1"/>
<line x1="435.24" y1="452.15" x2="435.24" y2="455.65" stroke="#9a9a9a" stroke-width="1"/>
<line x1="440.25" y1="452.15" x2="440.25" y2="455.65" stroke="#9a9a9a" stroke-width="1"/>
<line x1="445.27" y1="452.15" x2="445.27" y2="455.65" stroke="#9a9a9a" stroke-width="1"/>
<line x1="450.29" y1="452.15" x2="450.29" y2="455.65" stroke="#9a9a9a" stroke-width="1"/>
<line x1="455.30" y1="452.15" x2="455.30" y2="455.65" stroke="#9a9a9a" stroke-width="1"/>
<line x1="460.32" y1="452.15" x2="460.32" y2="455.65" stroke="#9a9a9a" stroke-width="1"/>
<line x1="465.34" y1="452.15" x2="465.34" y2="455.65" stroke="#9a9a9a" stroke-width="1"/>
<line x1="470.35" y1="452.15" x2="470.35" y2="455.65" stroke="#9a9a9a" stroke-width="1"/>
<line x1="475.37" y1="452.15" x2="475.37" y2="455.65" stroke="#9a9a9a" stroke-width="1"/>
<line x1="480.38" y1="452.15" x2="480.38" y2="455.65" stroke="#9a9a9a" stroke-width="1"/>
<line x1="485.40" y1="452.15" x2="485.40" y2="455.65" stroke="#9a9a9a" stroke-width="1"/>
<line x1="490.42" y1="452.15" x2="490.42" y2="455.65" stroke="#9a9a9a" stroke-width="1"/>
<line x1="495.43" y1="452.15" x2="495.43" y2="455.65" stroke="#9a9a9a" stroke-width="1"/>
<line x1="500.45" y1="452.15" x2="500.45" y2="455.65" stroke="#9a9a9a" stroke-width="1"/>
<line x1="505.47" y1="452.15" x2="505.47" y2="455.65" stroke="#9a9a9a" stroke-width="1"/>
<line x1="510.48" y1="452.15" x2="510.48" y2="455.65" stroke="#9a9a9a" stroke-width="1"/>
<line x1="515.50" y1="452.15" x2="515.50" y2="455.65" stroke="#9a9a9a" stroke-width="1"/>
<text transform="translate(66.91,460.30) rotate(-90)" text-anchor="end" class="n">10</text>
<text transform="translate(81.96,460.30) rotate(-90)" text-anchor="end" class="n">13</text>
<text transform="translate(97.01,460.30) rotate(-90)" text-anchor="end" class="n">16</text>
<text transform="translate(112.06,460.30) rotate(-90)" text-anchor="end" class="n">19</text>
<text transform="translate(127.11,460.30) rotate(-90)" text-anchor="end" class="n">22</text>
<text transform="translate(142.16,460.30) rotate(-90)" text-anchor="end" class="n">25</text>
<text transform="translate(157.20,460.30) rotate(-90)" text-anchor="end" class="n">28</text>
<text transform="translate(172.25,460.30) rotate(-90)" text-anchor="end" class="n">31</text>
<text transform="translate(187.30,460.30) rotate(-90)" text-anchor="end" class="n">34</text>
<text transform="translate(202.35,460.30) rotate(-90)" text-anchor="end" class="n">37</text>
<text transform="translate(217.40,460.30) rotate(-90)" text-anchor="end" class="n">40</text>
<text transform="translate(232.45,460.30) rotate(-90)" text-anchor="end" class="n">43</text>
<text transform="translate(247.50,460.30) rotate(-90)" text-anchor="end" class="n">46</text>
<text transform="translate(262.55,460.30) rotate(-90)" text-anchor="end" class="n">49</text>
<text transform="translate(277.60,460.30) rotate(-90)" text-anchor="end" class="n">52</text>
<text transform="translate(292.65,460.30) rotate(-90)" text-anchor="end" class="n">55</text>
<text transform="translate(307.70,460.30) rotate(-90)" text-anchor="end" class="n">58</text>
<text transform="translate(322.75,460.30) rotate(-90)" text-anchor="end" class="n">61</text>
<text transform="translate(337.80,460.30) rotate(-90)" text-anchor="end" class="n">64</text>
<text transform="translate(352.85,460.30) rotate(-90)" text-anchor="end" class="n">67</text>
<text transform="translate(367.90,460.30) rotate(-90)" text-anchor="end" class="n">70</text>
<text transform="translate(382.95,460.30) rotate(-90)" text-anchor="end" class="n">73</text>
<text transform="translate(398.00,460.30) rotate(-90)" text-anchor="end" class="n">76</text>
<text transform="translate(413.05,460.30) rotate(-90)" text-anchor="end" class="n">79</text>
<text transform="translate(428.10,460.30) rotate(-90)" text-anchor="end" class="n">82</text>
<text transform="translate(443.14,460.30) rotate(-90)" text-anchor="end" class="n">85</text>
<text transform="translate(458.19,460.30) rotate(-90)" text-anchor="end" class="n">88</text>
<text transform="translate(473.24,460.30) rotate(-90)" text-anchor="end" class="n">91</text>
<text transform="translate(488.29,460.30) rotate(-90)" text-anchor="end" class="n">94</text>
<text transform="translate(503.34,460.30) rotate(-90)" text-anchor="end" class="n">97</text>
<text transform="translate(518.39,460.30) rotate(-90)" text-anchor="end" class="n">100+</text>
<text x="6" y="11.6" class="p">A</text>
<text x="6" y="263.6" class="p">B</text>
<text transform="translate(9.7,153) rotate(-90)" class="t" textLength="88.5" lengthAdjust="spacingAndGlyphs">Number of families</text>
<text transform="translate(9.7,406.8) rotate(-90)" class="t" textLength="90" lengthAdjust="spacingAndGlyphs">Number of families</text>
<text x="201.7" y="234.7" class="t" textLength="183" lengthAdjust="spacingAndGlyphs">Number of proteins in ProtoBug family</text>
<text x="194.8" y="489.8" class="t" textLength="188" lengthAdjust="spacingAndGlyphs">Number of proteins in OrthoMCL family</text>
</svg>
</body></html>
